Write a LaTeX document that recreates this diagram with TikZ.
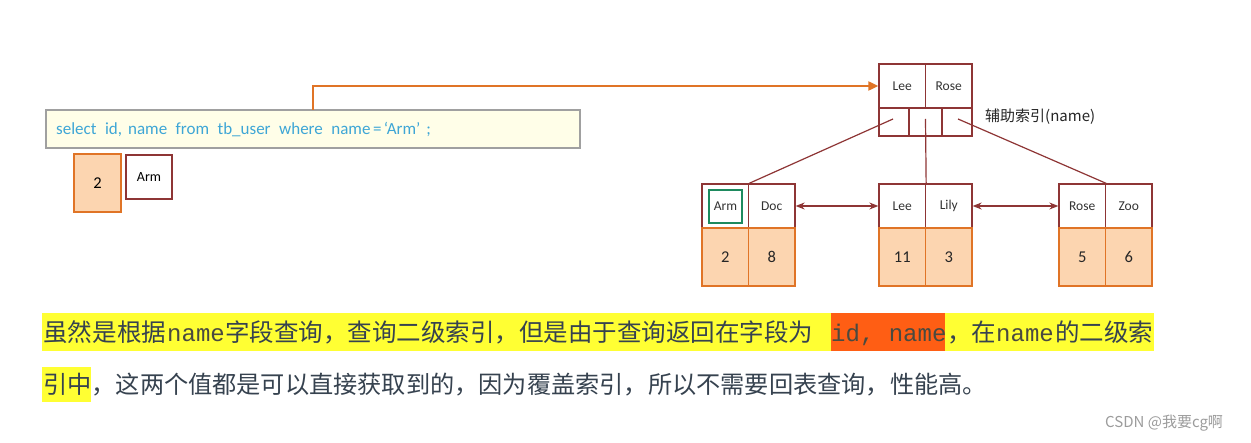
\documentclass[tikz,border=0pt]{standalone}
\usepackage{fontspec}
\setmainfont{Carlito}
\newfontfamily\cjk{Noto Sans CJK SC}
\newfontfamily\mono{Liberation Mono}
\usetikzlibrary{arrows.meta}
\definecolor{dred}{HTML}{8E3535}
\definecolor{oline}{HTML}{E07426}
\definecolor{ofill}{HTML}{FCD5B0}
\definecolor{gbox}{HTML}{1E8A5E}
\definecolor{sqlblue}{HTML}{3EA6D6}
\definecolor{sqlfill}{HTML}{FFFEE8}
\definecolor{sqlborder}{HTML}{A0A0A0}
\definecolor{hlyellow}{HTML}{FFFF33}
\definecolor{hlorange}{HTML}{FF5E14}
\definecolor{bodytext}{HTML}{36424F}
\definecolor{monotext}{HTML}{4A4A40}
\definecolor{wm}{HTML}{9C9C9C}
\tikzset{
  keycell/.style={draw=dred, line width=1.3pt, minimum width=46.5pt, minimum height=44pt, inner sep=0pt, font=\fontsize{13.5}{15}\selectfont, text=black!80},
  valcell/.style={draw=oline, fill=ofill, line width=1.3pt, minimum width=46.5pt, minimum height=58pt, inner sep=0pt, font=\fontsize{16.5}{18}\selectfont, text=black!85},
  ptrcell/.style={draw=dred, line width=1.3pt, minimum height=28pt, inner sep=0pt},
  treeline/.style={draw=dred, line width=1.2pt},
  linkarrow/.style={draw=dred, line width=1.3pt, {Stealth[length=9pt,width=7pt]}-{Stealth[length=9pt,width=7pt]}},
  bodyseg/.style={anchor=base west, inner sep=0pt, text=bodytext},
  monoseg/.style={anchor=base west, inner sep=0pt, text=monotext, font=\mono\fontsize{24}{28}\selectfont},
}
\begin{document}
\begin{tikzpicture}[x=1pt,y=-1pt]
\useasboundingbox (0,0) rectangle (1251,443);
\fill[white] (0,0) rectangle (1251,443);

% SQL box
\node[draw=sqlborder, fill=sqlfill, line width=1.3pt, minimum width=534pt, minimum height=38pt, inner sep=0pt] (sql) at (313,129) {};
\node[anchor=base west, inner sep=0pt, text=sqlblue, font=\fontsize{17}{19}\selectfont] (sqltext) at (56,135)
  {select\hspace{8.5pt}id,\hspace{6pt}name\hspace{8.5pt}from\hspace{8.5pt}tb\_user\hspace{8.5pt}where\hspace{8.5pt}name\hspace{2.5pt}=\hspace{2.5pt}‘Arm’\hspace{6pt};};
\coordinate (qtop) at (313,110);

% result boxes
\node[draw=oline, fill=ofill, line width=1.3pt, minimum width=47pt, minimum height=58pt, inner sep=0pt, font=\fontsize{16.5}{18}\selectfont] (r2) at (97.5,183) {2};
\node[draw=dred, line width=1.3pt, minimum width=46pt, minimum height=44pt, inner sep=0pt, font=\fontsize{14}{16}\selectfont] (rarm) at (149,177) {Arm};

% top index node
\node[keycell] (tL) at (902.25,86) {Lee};
\node[keycell] (tR) at (948.75,86) {Rose};
\node[ptrcell, minimum width=30pt] (p1) at (894,122) {};
\node[ptrcell, minimum width=33pt] (p2) at (925.5,122) {};
\node[ptrcell, minimum width=30pt] (p3) at (957,122) {};
\node[anchor=west, inner sep=0pt, font=\cjk\fontsize{15}{17}\selectfont, text=black!85] (idxlabel) at (985,117) {辅助索引(name)};

% leaves
\node[keycell] (lA) at (725.25,206) {};
\node[draw=gbox, line width=2.2pt, minimum width=33pt, minimum height=33pt, inner sep=0pt, font=\fontsize{13.5}{15}\selectfont, text=black!80] (armg) at (725.5,206.5) {Arm};
\node[keycell] (lB) at (771.75,206) {Doc};
\node[valcell] (lC) at (725.25,257) {2};
\node[valcell] (lD) at (771.75,257) {8};

\node[keycell] (mA) at (902.25,206) {Lee};
\node[keycell] (mB) at (948.75,206) {Lily};
\node[valcell] (mC) at (902.25,257) {11};
\node[valcell] (mD) at (948.75,257) {3};

\node[keycell] (rA) at (1082.25,206) {Rose};
\node[keycell] (rB) at (1128.75,206) {Zoo};
\node[valcell] (rC) at (1082.25,257) {5};
\node[valcell] (rD) at (1128.75,257) {6};

% tree connectors
\draw[treeline] ([xshift=-1pt,yshift=3pt]p1.center) -- (lA.north east);
\draw[treeline] ([yshift=3pt]p2.center) -- (mA.north east);
\draw[treeline] ([xshift=1pt,yshift=3pt]p3.center) -- (rA.north east);
\draw[linkarrow] (lB.east) -- (mA.west);
\draw[linkarrow] (mB.east) -- (rA.west);

% query arrow
\draw[draw=oline, line width=2pt, -{Triangle[length=10pt,width=9pt]}] (qtop) |- (tL.west);

% explanation text highlights
\fill[hlyellow] (42,313) rectangle (1154,351);
\fill[hlorange] (831,313) rectangle (945,351);
\fill[hlyellow] (42,367) rectangle (91,402);

\node[bodyseg, font=\cjk\fontsize{24.6}{28}\selectfont] (s1) at (43,342) {虽然是根据};
\node[monoseg] (s2) at (167,342) {name};
\node[bodyseg, font=\cjk\fontsize{24.5}{28}\selectfont] (s3) at (225,342) {字段查询，查询二级索引，但是由于查询返回在字段为};
\node[monoseg] (s4) at (831,342) {id, name};
\node[bodyseg, font=\cjk\fontsize{24.5}{28}\selectfont] (s5) at (947,342) {，在};
\node[monoseg] (s6) at (996,342) {name};
\node[bodyseg, font=\cjk\fontsize{24.5}{28}\selectfont] (s7) at (1055,342) {的二级索};
\node[bodyseg, font=\cjk\fontsize{24.2}{28}\selectfont] (l2) at (43,394) {引中，这两个值都是可以直接获取到的，因为覆盖索引，所以不需要回表查询，性能高。};

% watermark
\node[anchor=west, inner sep=0pt, text=wm, font=\cjk\fontsize{15}{17}\selectfont] (wmark) at (1105,423) {CSDN @我要cg啊};
\end{tikzpicture}
\end{document}
